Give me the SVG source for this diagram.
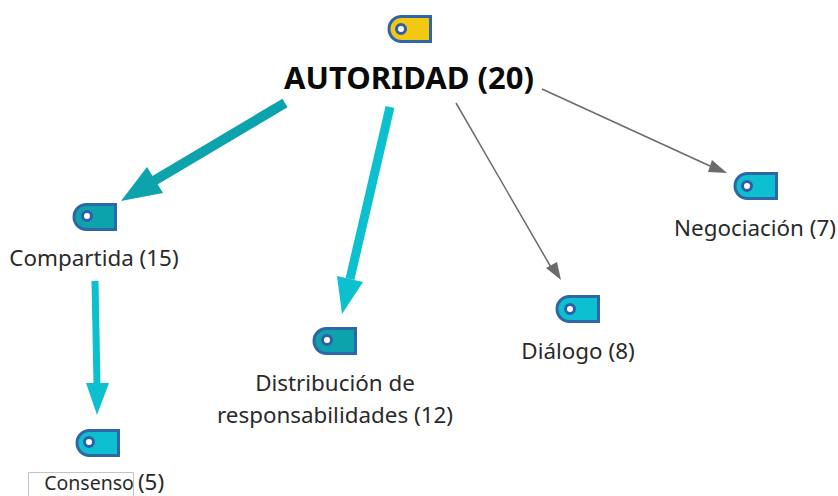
<svg xmlns="http://www.w3.org/2000/svg" width="838" height="496" viewBox="0 0 838 496">
<style>
text{font-family:"Noto Sans","Open Sans",sans-serif;font-size:22.4px;fill:#2a2a2a;text-anchor:middle}
.title{font-size:31px;font-weight:700;fill:#0a0a0a}
.tag{stroke:#2f66a8;stroke-width:3;stroke-linejoin:miter}
.hole{fill:#fff;stroke:#2f5fa8;stroke-width:3}
.teal{fill:#0ca3ad}.cyan{fill:#0cc0cf}.yellow{fill:#f2c811}
.lt{stroke:#0ca3ad;fill:none}.lc{stroke:#0cc0cf;fill:none}.lg{stroke:#6b6b6b;fill:none;stroke-width:1.5}
</style>
<defs>
<path id="tag" d="M13.5 1.5H42.5V26.5H13.5A12.5 12.5 0 0 1 13.5 1.5Z"/>
</defs>
<g id="connectors">
<path class="lt" stroke-width="10" d="M285 103L152 182"/>
<polygon class="teal" points="147,167 163,193 121,201"/>
<path class="lc" stroke-width="9" d="M390 107L350 279"/>
<polygon class="cyan" points="337,276 363,282 342,314"/>
<path class="lg" d="M456 103L552 269"/>
<polygon fill="#6b6b6b" points="546,268 557,262 561,280"/>
<path class="lg" d="M542 89L710 166"/>
<polygon fill="#6b6b6b" points="712,160 708,172 727,173"/>
<path class="lc" stroke-width="7" d="M95 281L97 385"/>
<polygon class="cyan" points="86,383 109,383 97,415"/>
</g>
<g id="node-autoridad">
<use href="#tag" x="388" y="15" class="tag yellow"/>
<circle class="hole" cx="401" cy="29" r="4.500"/>
<text class="title" x="409" y="89">AUTORIDAD (20)</text>
</g>
<g id="node-compartida">
<use href="#tag" x="73" y="203" class="tag teal"/>
<circle class="hole" cx="87" cy="216" r="4.500"/>
<text x="94" y="266">Compartida (15)</text>
</g>
<g id="node-distribucion">
<use href="#tag" x="313" y="327" class="tag teal"/>
<circle class="hole" cx="327" cy="340" r="4.500"/>
<text x="335" y="391">Distribución de</text>
<text x="335" y="423">responsabilidades (12)</text>
</g>
<g id="node-dialogo">
<use href="#tag" x="556" y="295" class="tag cyan"/>
<circle class="hole" cx="570" cy="309" r="4.500"/>
<text x="578" y="359">Diálogo (8)</text>
</g>
<g id="node-negociacion">
<use href="#tag" x="734" y="172" class="tag cyan"/>
<circle class="hole" cx="747" cy="186" r="4.500"/>
<text x="755" y="236">Negociación (7)</text>
</g>
<g id="node-consenso">
<use href="#tag" x="76" y="429" class="tag cyan"/>
<circle class="hole" cx="89" cy="442" r="4.500"/>
<path d="M28.500 496V472.500H133.500V496" fill="none" stroke="#c4c4c4"/>
<text x="89" y="490" style="font-size:19.500px">Consenso</text>
<text x="151" y="490">(5)</text>
</g>
</svg>
